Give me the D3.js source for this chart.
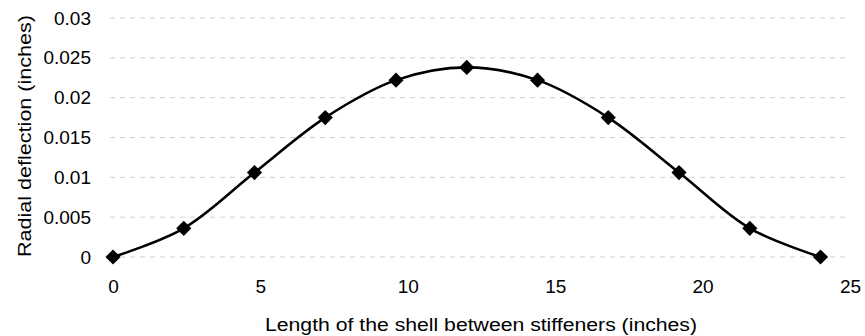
<!DOCTYPE html>
<html>
<head>
<meta charset="utf-8">
<script src="https://cdn.jsdelivr.net/npm/d3@7"></script>
<style>
  body { margin: 0; background: #fff; }
  text { font-family: 'Liberation Sans', Arial, sans-serif; fill: #000; }
</style>
</head>
<body>
<div id="chart-container"></div>
<script>
// data
const positions = [0, 2.4, 4.8, 7.2, 9.6, 12, 14.4, 16.8, 19.2, 21.6, 24];
const deflections = [0, 0.0036, 0.0106, 0.0175, 0.0222, 0.0238, 0.0222, 0.0175, 0.0106, 0.0036, 0];
const xTicks = [0, 5, 10, 15, 20, 25];
const yTicks = [0, 0.005, 0.01, 0.015, 0.02, 0.025, 0.03];

const data = positions.map((p, i) => ({ x: p, y: deflections[i] }));

const margin = { top: 18, right: 15, bottom: 79, left: 113 };
const width = 865 - margin.left - margin.right;
const height = 336 - margin.top - margin.bottom;

const svg = d3
  .select('#chart-container')
  .append('svg')
  .attr('width', 865)
  .attr('height', 336)
  .append('g')
  .attr('transform', `translate(${margin.left}, ${margin.top})`);

const x = d3.scaleLinear().domain([0, 25]).range([0, 737]);
const y = d3.scaleLinear().domain([0, 0.03]).range([height, 0]);

// faint grid, like the scan
svg
  .selectAll('.grid')
  .data(yTicks)
  .join('line')
  .attr('class', 'grid')
  .attr('x1', -3)
  .attr('x2', width)
  .attr('y1', (d) => y(d))
  .attr('y2', (d) => y(d))
  .attr('stroke', '#d0d0d0')
  .attr('stroke-width', 1)
  .attr('stroke-dasharray', '5,5');

// y axis: labels only
svg
  .append('g')
  .call(d3.axisLeft(y).tickValues(yTicks).tickFormat((d) => String(+d.toFixed(3))).tickSize(0).tickPadding(22))
  .call((g) => g.select('.domain').remove())
  .call((g) => g.selectAll('text').style('font-size', '19px').style('font-family', "'Liberation Sans', Arial, sans-serif"));

// x axis: labels only
svg
  .append('g')
  .attr('transform', `translate(0,${height})`)
  .call(d3.axisBottom(x).tickValues(xTicks).tickFormat(d3.format('d')).tickSize(0).tickPadding(23))
  .call((g) => g.select('.domain').remove())
  .call((g) => g.selectAll('text').style('font-size', '19px').style('font-family', "'Liberation Sans', Arial, sans-serif"));

// axis titles (the scan is a bit stretched, so stretch the glyphs)
svg
  .append('text')
  .attr('transform', 'rotate(-90)')
  .attr('x', -(136 - margin.top))
  .attr('y', -margin.left + 31)
  .style('text-anchor', 'middle')
  .style('font-size', '18px')
  .attr('textLength', 242)
  .attr('lengthAdjust', 'spacingAndGlyphs')
  .text('Radial deflection (inches)');

svg
  .append('text')
  .attr('x', 368)
  .attr('y', height + 74)
  .style('text-anchor', 'middle')
  .style('font-size', '18px')
  .attr('textLength', 432)
  .attr('lengthAdjust', 'spacingAndGlyphs')
  .text('Length of the shell between stiffeners (inches)');

// smoothed line
const line = d3
  .line()
  .x((d) => x(d.x))
  .y((d) => y(d.y))
  .curve(d3.curveCatmullRom.alpha(0.5));

svg
  .append('path')
  .datum(data)
  .attr('fill', 'none')
  .attr('stroke', '#000')
  .attr('stroke-width', 2.6)
  .attr('d', line);

// diamond markers
svg
  .selectAll('.marker')
  .data(data)
  .join('path')
  .attr('class', 'marker')
  .attr('transform', (d) => `translate(${x(d.x)},${y(d.y)}) rotate(45)`)
  .attr('d', d3.symbol(d3.symbolSquare, 115))
  .attr('fill', '#000');
</script>
</body>
</html>
